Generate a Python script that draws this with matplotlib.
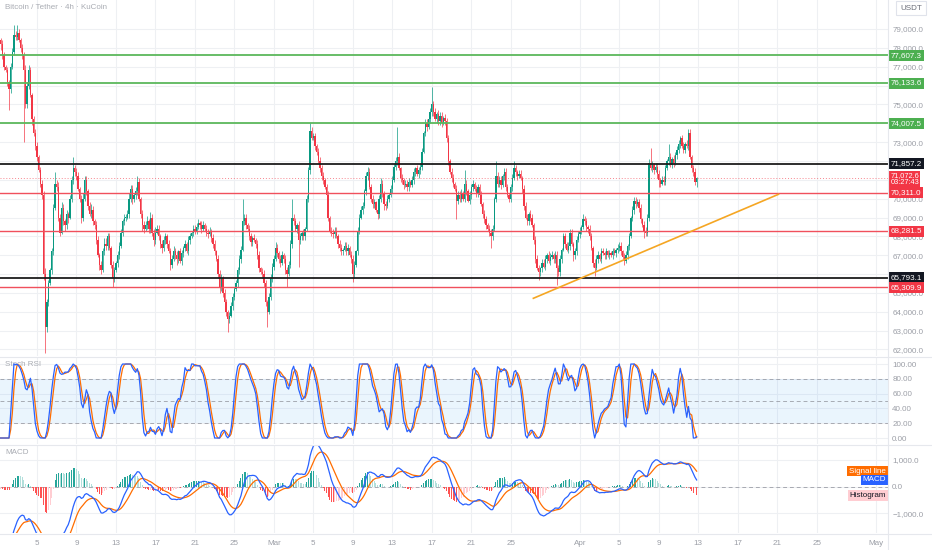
import numpy as np
import pandas as pd
import matplotlib
matplotlib.use("Agg")
import matplotlib.pyplot as plt

# ---------------- data (prices in hundreds of USDT) ----------------
# estimated 4h closes before the visible window (Jan 24-31), only to warm up the indicators
pre_close = [
    905, 902, 904, 899, 896, 898,
    893, 890, 892, 887, 884, 885,
    880, 877, 879, 874, 871, 872,
    868, 864, 866, 861, 858, 859,
    855, 851, 853, 848, 845, 846,
    842, 838, 840, 835, 832, 830,
    826, 822, 818, 815, 812, 808,
    805, 801, 797, 794, 791, 788,
]
# 4h closes, Feb 1 .. Apr 12 (six per day)
close_rows = [
    [786, 784, 782, 776, 770, 768], [762, 758, 770, 778, 787, 786], [788, 784, 780, 776, 768, 750],
    [760, 768, 755, 742, 735, 728], [722, 715, 708, 702, 660, 632], [645, 655, 662, 672, 695, 708],
    [706, 690, 682, 695, 688, 686], [692, 690, 700, 710, 716, 714], [712, 705, 700, 690, 700, 710],
    [704, 696, 692, 694, 688, 686], [678, 670, 665, 662, 672, 676], [675, 680, 674, 665, 658, 662],
    [666, 670, 675, 682, 688, 690], [690, 692, 700, 705, 700, 702], [704, 709, 700, 692, 686, 684],
    [686, 688, 684, 690, 682, 678], [682, 684, 680, 676, 674, 678], [680, 676, 672, 665, 668, 672],
    [670, 668, 672, 667, 671, 674], [676, 672, 678, 680, 682, 684], [683, 685, 687, 686, 684, 686],
    [684, 682, 681, 683, 679, 676], [672, 668, 660, 653, 658, 650], [645, 640, 636, 638, 643, 648],
    [652, 655, 662, 668, 673, 688], [690, 686, 684, 680, 677, 679], [678, 676, 670, 663, 661, 660],
    [655, 645, 640, 648, 658, 664], [668, 674, 671, 668, 666, 670], [668, 662, 660, 665, 676, 690],
    [688, 684, 686, 678, 680, 682], [680, 684, 700, 715, 736, 732], [733, 728, 725, 720, 716, 712],
    [710, 706, 702, 690, 683, 682], [681, 683, 680, 676, 674, 672], [673, 675, 672, 674, 670, 668],
    [660, 665, 672, 683, 690, 694], [696, 704, 712, 714, 706, 700], [697, 698, 694, 692, 700, 708],
    [703, 697, 696, 700, 702, 705], [710, 717, 720, 722, 716, 711], [710, 707, 708, 706, 709, 707],
    [710, 714, 716, 713, 715, 717], [725, 735, 740, 738, 742, 746], [750, 746, 742, 745, 741, 744],
    [740, 743, 741, 732, 720, 714], [711, 708, 705, 699, 702, 700], [703, 700, 708, 704, 699, 702],
    [706, 708, 705, 703, 706, 702], [697, 692, 689, 686, 684, 682], [680, 684, 700, 712, 708, 710],
    [707, 712, 714, 706, 702, 700], [706, 711, 716, 714, 712, 713], [711, 705, 696, 690, 688, 692],
    [690, 686, 678, 668, 663, 661], [663, 666, 664, 668, 670, 667], [669, 670, 668, 670, 663, 661],
    [668, 673, 680, 676, 673, 675], [682, 676, 670, 672, 678, 681], [683, 685, 689, 688, 685, 684],
    [680, 674, 666, 663, 668, 670], [668, 672, 671, 670, 672, 670], [671, 670, 672, 671, 673, 674],
    [675, 672, 669, 667, 670, 675], [680, 690, 694, 699, 697, 698], [695, 689, 686, 683, 682, 690],
    [719, 716, 718, 715, 717, 713], [710, 708, 710, 709, 716, 720], [722, 718, 721, 719, 723, 726],
    [729, 732, 728, 726, 729, 728], [735, 722, 716, 714, 709, 710.726],
]
# upper / lower wick lengths beyond the body (hundreds of USDT)
wick_up_rows = [
    [3, 2, 1, 2, 2, 1], [2, 1, 2, 2, 5, 2], [4, 2, 1, 2, 2, 3], [2, 3, 2, 1, 2, 2], [2, 1, 2, 2, 2, 3],
    [2, 2, 1, 2, 2, 6], [2, 3, 2, 3, 2, 1], [2, 1, 2, 2, 6, 2], [2, 2, 1, 2, 3, 2], [2, 1, 2, 3, 2, 1],
    [2, 2, 1, 2, 2, 3], [3, 2, 2, 1, 2, 2], [1, 2, 2, 2, 1, 2], [2, 2, 3, 2, 2, 1], [2, 3, 2, 1, 2, 2],
    [2, 3, 1, 3, 2, 2], [3, 2, 2, 1, 2, 2], [2, 1, 2, 2, 2, 3], [2, 2, 1, 2, 2, 1], [2, 1, 2, 2, 1, 2],
    [2, 2, 2, 1, 2, 2], [1, 2, 2, 2, 1, 2], [2, 1, 2, 2, 2, 1], [2, 2, 1, 2, 2, 2], [1, 2, 2, 2, 2, 12],
    [2, 2, 1, 2, 2, 1], [2, 1, 2, 2, 1, 2], [2, 2, 1, 2, 2, 2], [2, 3, 2, 1, 2, 2], [1, 2, 2, 2, 2, 10],
    [2, 2, 1, 2, 2, 1], [2, 1, 2, 2, 4, 2], [2, 2, 1, 2, 2, 2], [2, 1, 2, 2, 1, 2], [2, 2, 2, 1, 2, 2],
    [1, 2, 2, 2, 1, 2], [2, 2, 1, 2, 2, 2], [2, 1, 2, 3, 2, 2], [2, 2, 1, 2, 2, 3], [2, 1, 2, 2, 1, 2],
    [2, 2, 2, 16, 2, 1], [2, 1, 2, 2, 2, 1], [2, 2, 1, 2, 2, 2], [2, 1, 2, 2, 1, 2], [9, 2, 2, 1, 2, 2],
    [2, 1, 2, 2, 2, 1], [2, 2, 1, 2, 2, 2], [2, 1, 7, 2, 1, 2], [2, 2, 1, 2, 2, 2], [2, 1, 2, 2, 1, 2],
    [2, 2, 1, 8, 2, 2], [2, 1, 2, 2, 2, 1], [2, 2, 4, 2, 1, 2], [2, 1, 2, 2, 2, 1], [2, 2, 1, 2, 2, 2],
    [1, 2, 2, 2, 1, 2], [2, 2, 1, 2, 2, 2], [2, 1, 2, 2, 1, 2], [2, 2, 1, 2, 2, 2], [2, 1, 3, 2, 2, 1],
    [2, 2, 1, 2, 2, 2], [1, 2, 2, 1, 2, 1], [2, 1, 2, 2, 1, 2], [2, 2, 1, 2, 2, 1], [2, 1, 2, 2, 2, 2],
    [2, 2, 1, 2, 2, 2], [2, 8, 2, 1, 2, 2], [2, 1, 2, 2, 2, 1], [7, 2, 1, 2, 2, 2], [2, 1, 2, 2, 1, 2],
    [2, 2, 1, 2, 2, 1],
]
wick_dn_rows = [
    [2, 1, 3, 2, 2, 1], [2, 11, 2, 1, 2, 2], [2, 1, 2, 2, 38, 2], [2, 2, 1, 3, 2, 2], [2, 1, 2, 2, 3, 14],
    [3, 2, 1, 2, 2, 1], [2, 2, 2, 1, 2, 3], [2, 3, 1, 2, 2, 2], [2, 1, 2, 3, 2, 1], [2, 2, 1, 2, 2, 2],
    [2, 1, 3, 2, 1, 2], [2, 2, 1, 2, 5, 2], [1, 2, 2, 1, 2, 2], [2, 1, 2, 2, 3, 2], [2, 2, 1, 2, 3, 2],
    [1, 2, 2, 2, 2, 3], [2, 1, 2, 2, 3, 2], [2, 2, 1, 3, 2, 1], [2, 3, 2, 1, 2, 2], [2, 1, 2, 2, 1, 2],
    [2, 2, 1, 2, 2, 1], [1, 2, 2, 1, 2, 2], [2, 1, 2, 3, 2, 2], [2, 2, 7, 2, 1, 2], [2, 1, 2, 2, 2, 1],
    [2, 2, 1, 2, 2, 2], [1, 2, 2, 2, 1, 2], [2, 2, 8, 1, 2, 2], [2, 1, 2, 2, 2, 1], [2, 2, 7, 1, 2, 2],
    [2, 1, 2, 14, 2, 2], [2, 2, 1, 2, 2, 1], [1, 2, 2, 1, 2, 2], [2, 1, 2, 2, 1, 2], [2, 2, 1, 2, 2, 2],
    [2, 1, 2, 2, 1, 2], [4, 2, 1, 2, 2, 1], [2, 1, 2, 2, 1, 2], [2, 2, 1, 3, 2, 2], [2, 3, 2, 1, 2, 1],
    [2, 1, 2, 2, 1, 2], [2, 2, 1, 2, 2, 1], [1, 2, 2, 1, 2, 2], [2, 1, 2, 2, 1, 2], [2, 2, 1, 2, 2, 2],
    [2, 1, 2, 2, 2, 1], [2, 2, 1, 10, 2, 2], [2, 1, 2, 2, 1, 2], [2, 2, 1, 2, 2, 1], [1, 2, 2, 2, 1, 2],
    [6, 2, 1, 2, 2, 2], [2, 1, 2, 2, 1, 2], [2, 2, 1, 2, 2, 1], [1, 2, 2, 1, 2, 2], [2, 1, 2, 2, 1, 4],
    [2, 2, 1, 2, 2, 1], [2, 1, 2, 2, 9, 2], [2, 2, 1, 2, 1, 2], [2, 1, 3, 2, 2, 1], [2, 2, 1, 2, 2, 2],
    [2, 1, 2, 4, 1, 2], [1, 2, 1, 2, 2, 1], [2, 1, 2, 1, 2, 2], [2, 2, 1, 2, 1, 2], [2, 1, 2, 2, 2, 1],
    [2, 2, 1, 4, 2, 2], [2, 1, 2, 2, 1, 2], [4, 2, 1, 2, 2, 1], [2, 1, 2, 2, 1, 2], [2, 2, 1, 2, 2, 1],
    [2, 1, 2, 2, 2, 3],
]

# horizontal levels drawn on the chart
level_prices = [77607.3, 76133.6, 74007.5, 71857.2, 70311.0, 68281.5, 65793.1, 65309.9]
level_kinds = ["green", "green", "green", "black", "red", "red", "black", "red"]
last_price = 71072.6
countdown = "03:27:43"

# orange trend line
trend_times = ["2025-03-27T07:00", "2025-04-21T03:00"]
trend_prices = [64714, 70231]

# x-axis tick labels
tick_dates = ["2025-02-05", "2025-02-09", "2025-02-13", "2025-02-17", "2025-02-21", "2025-02-25",
              "2025-03-01", "2025-03-05", "2025-03-09", "2025-03-13", "2025-03-17", "2025-03-21",
              "2025-03-25", "2025-04-01", "2025-04-05", "2025-04-09", "2025-04-13", "2025-04-17",
              "2025-04-21", "2025-04-25", "2025-05-01"]
tick_labels = ["5", "9", "13", "17", "21", "25", "Mar", "5", "9", "13", "17", "21", "25",
               "Apr", "5", "9", "13", "17", "21", "25", "May"]

# ---------------- derived series ----------------
start = np.datetime64("2025-02-01T00:00")
n_pre = len(pre_close)
closes = np.array(pre_close + [v for row in close_rows for v in row], dtype=float) * 100
wu = np.array([v for row in wick_up_rows for v in row], dtype=float) * 100
wl = np.array([v for row in wick_dn_rows for v in row], dtype=float) * 100
opens = np.r_[closes[0], closes[:-1]]
t_all = (np.arange(len(closes)) - n_pre) / 6.0

c = closes[n_pre:]
o = opens[n_pre:]
t = t_all[n_pre:]
highs = np.maximum(o, c) + wu
lows = np.minimum(o, c) - wl

s = pd.Series(closes)
macd = s.ewm(span=12, adjust=False).mean() - s.ewm(span=26, adjust=False).mean()
signal = macd.ewm(span=9, adjust=False).mean()
hist = macd - signal

delta = s.diff()
gain = delta.clip(lower=0).ewm(alpha=1 / 14, adjust=False).mean()
loss = (-delta.clip(upper=0)).ewm(alpha=1 / 14, adjust=False).mean()
rsi = 100 - 100 / (1 + gain / loss)
stoch = (rsi - rsi.rolling(14).min()) / (rsi.rolling(14).max() - rsi.rolling(14).min()) * 100
k_line = stoch.rolling(3).mean()
d_line = k_line.rolling(3).mean()

def to_days(ts):
    return (np.array(ts, dtype="datetime64[m]") - start) / np.timedelta64(1, "D")

t_ticks = to_days(tick_dates)
t_trend = to_days(trend_times)

# ---------------- figure ----------------
W, H, PW = 932, 550, 888
TXT = "#9b9ea6"
GRID = "#eef0f3"
UP, DN = "#089981", "#f23645"
FS = 5.8
plt.rcParams["font.family"] = ["Liberation Sans", "DejaVu Sans"]

fig = plt.figure(figsize=(W / 100, H / 100), dpi=100)
fig.patch.set_facecolor("white")

def pane(top, bottom):
    a = fig.add_axes([0, 1 - bottom / H, PW / W, (bottom - top) / H])
    a.set_xlim(0.253, 90.22)
    for sp in a.spines.values():
        sp.set_visible(False)
    a.set_xticks(t_ticks)
    a.grid(True, color=GRID, lw=0.8)
    a.set_axisbelow(True)
    a.yaxis.tick_right()
    a.tick_params(axis="both", length=0, labelsize=FS, labelcolor=TXT, pad=3,
                  labelbottom=False, labelright=True, labelleft=False)
    return a

ax = pane(0, 356)
ax_s = pane(357, 444)
ax_m = pane(445, 533)

# --- main price pane ---
ax.set_ylim(61653, 80538)
yt = np.arange(62000, 79001, 1000)
ax.set_yticks(yt)
# price-scale labels (almost) covered by a tag on the price scale are not shown
tag_prices = level_prices + [last_price]
covered = [min(abs(v - p) for p in tag_prices) < 230 for v in yt]
ax.set_yticklabels(["" if cv else f"{v:,.1f}" for v, cv in zip(yt, covered)])

cols = np.where(c >= o, UP, DN)
ax.vlines(t, lows, highs, colors=cols, lw=0.7, alpha=0.7, zorder=3)
ax.bar(t, np.maximum(np.abs(c - o), 45), bottom=np.minimum(o, c), width=0.135,
       color=cols, linewidth=0, zorder=4)

lvl_col = {"green": "#5cb85c", "black": "#1c1c1c", "red": "#f0505c"}
lvl_lw = {"green": 1.3, "black": 1.3, "red": 1.0}
tag_col = {"green": "#4caf50", "black": "#131722", "red": "#f23645"}
for p, kind in zip(level_prices, level_kinds):
    ax.axhline(p, color=lvl_col[kind], lw=lvl_lw[kind], zorder=5)
ax.axhline(last_price, color=DN, lw=0.7, ls=(0, (1, 2)), alpha=0.6, zorder=5)
ax.plot(t_trend, trend_prices, color="#f5a623", lw=1.2, zorder=6)

def tag(axis, y, text, fc, tc="white", dy=0.0, fs=FS, ls=1.0, pad=0.25):
    axis.annotate(text, xy=(1, y), xycoords=axis.get_yaxis_transform(),
                  xytext=(1.8, dy), textcoords="offset points", ha="left", va="center",
                  fontsize=fs, color=tc, zorder=20, annotation_clip=False, linespacing=ls,
                  bbox=dict(boxstyle=f"square,pad={pad}", fc=fc, ec="none"))

for p, kind in zip(level_prices, level_kinds):
    tag(ax, p, f"{p:,.1f}", tag_col[kind])
tag(ax, last_price, f"{last_price:,.1f}\n{countdown}", DN, dy=-0.6, fs=5.3, ls=1.0, pad=0.14)

ax.text(0.006, 0.988, "Bitcoin / Tether · 4h · KuCoin", transform=ax.transAxes,
        fontsize=FS, color="#a9acb3", ha="left", va="top")
fig.text(911 / W, 1 - 8 / H, "USDT", fontsize=FS, color="#6a6d78", ha="center", va="center",
         bbox=dict(boxstyle="square,pad=0.45", fc="white", ec="#e0e3eb", lw=0.8))

# --- Stoch RSI pane ---
ax_s.set_ylim(-8.1, 109.5)
st = [0, 20, 40, 60, 80, 100]
ax_s.set_yticks(st)
ax_s.set_yticklabels([f"{v:.2f}" for v in st])
ax_s.axhspan(20, 80, color="#2196f3", alpha=0.09, lw=0, zorder=1)
for lv in (20, 50, 80):
    ax_s.axhline(lv, color="#9598a1", lw=0.7, ls=(0, (4, 3)), alpha=0.8, zorder=2)
ax_s.plot(t_all, k_line, color="#2962ff", lw=0.9, zorder=4)
ax_s.plot(t_all, d_line, color="#ff6d00", lw=0.9, zorder=3)
ax_s.text(0.006, 0.95, "Stoch RSI", transform=ax_s.transAxes, fontsize=FS, color="#a9acb3",
          ha="left", va="top")

# --- MACD pane ---
ax_m.set_ylim(-1741, 1556)
mt = [-1000, 0, 1000]
ax_m.set_yticks(mt)
ax_m.set_yticklabels(["\u22121,000.0", "0.0", "1,000.0"])
ax_m.axhline(0, color="#9598a1", lw=0.7, ls=(0, (4, 3)), alpha=0.8, zorder=2)
hv = hist.values
hprev = np.r_[hv[0], hv[:-1]]
hcols = np.where(hv >= 0, np.where(hv >= hprev, "#26a69a", "#b2dfdb"),
                 np.where(hv <= hprev, "#ff5252", "#ffcdd2"))
ax_m.bar(t_all, hv, width=0.1, color=hcols, linewidth=0, zorder=3)
ax_m.plot(t_all, macd, color="#2962ff", lw=0.9, zorder=5)
ax_m.plot(t_all, signal, color="#ff6d00", lw=0.9, zorder=4)
ax_m.text(0.006, 0.95, "MACD", transform=ax_m.transAxes, fontsize=FS, color="#a9acb3",
          ha="left", va="top")

def ltag(y, text, fc, tc="white"):
    ax_m.annotate(text, xy=(1, y), xycoords=ax_m.get_yaxis_transform(), xytext=(-1.5, 0),
                  textcoords="offset points", ha="right", va="center", fontsize=FS, color=tc,
                  zorder=20, annotation_clip=False,
                  bbox=dict(boxstyle="square,pad=0.22", fc=fc, ec="none"))

ltag(signal.iloc[-1], "Signal line", "#ff6d00")
ltag(macd.iloc[-1], "MACD", "#2962ff")
ltag(hist.iloc[-1], "Histogram", "#ffcdd2", "#131722")

ax_m.tick_params(axis="x", labelbottom=True, pad=5)
ax_m.set_xticklabels(tick_labels)

# pane separators / price-scale border
for yy in (356.5, 444.5, 533.5):
    fig.add_artist(plt.Line2D([0, 1], [1 - yy / H] * 2, color="#e6e8ed", lw=0.8))
fig.add_artist(plt.Line2D([PW / W] * 2, [0, 1], color="#e6e8ed", lw=0.8))

fig.savefig("out.png", dpi=100, facecolor="white")
